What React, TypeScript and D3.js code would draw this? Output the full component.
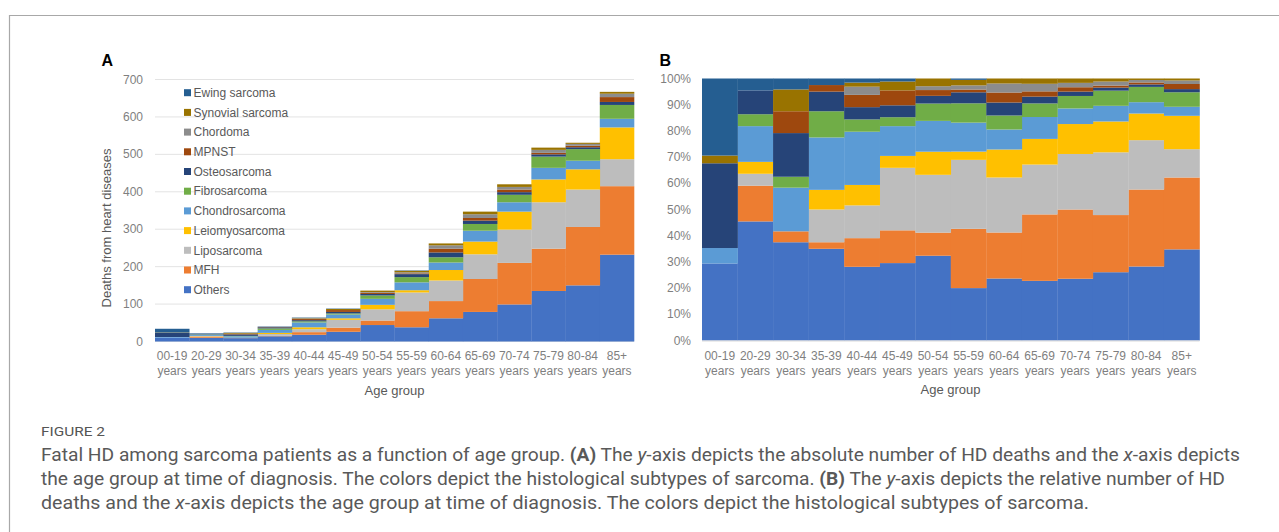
import * as d3 from "d3";

// age groups (x categories)
const ageGroups = [
  "00-19 years", "20-29 years", "30-34 years", "35-39 years", "40-44 years",
  "45-49 years", "50-54 years", "55-59 years", "60-64 years", "65-69 years",
  "70-74 years", "75-79 years", "80-84 years", "85+ years",
];

// deaths from heart diseases per histological subtype
const others = [10, 10, 9, 14, 18, 26, 44, 38, 62, 79, 99, 135, 150, 232];
const mfh = [0, 3, 1, 1, 7, 11, 12, 43, 46, 88, 111, 113, 156, 183];
const liposarcoma = [0, 1, 0, 5, 8, 21, 30, 50, 55, 66, 89, 124, 100, 72];
const leiomyosarcoma = [0, 1, 0, 3, 5, 4, 12, 6, 28, 34, 48, 61, 54, 85];
const chondrosarcoma = [2, 3, 4, 8, 13, 10, 16, 21, 20, 29, 25, 31, 23, 23];
const fibrosarcoma = [0, 1, 1, 4, 3, 3, 9, 14, 14, 18, 20, 30, 31, 37];
const osteosarcoma = [11, 2, 4, 3, 3, 4, 4, 8, 13, 9, 7, 6, 5, 8];
const mpnst = [0, 0, 2, 1, 3, 5, 3, 2, 10, 7, 7, 4, 4, 13];
const chordoma = [0, 0, 0, 0, 2, 0, 2, 3, 9, 10, 7, 8, 5, 9];
const synovial = [1, 0, 2, 0, 1, 3, 4, 4, 5, 7, 7, 6, 3, 5];
const ewing = [10, 1, 1, 1, 1, 1, 0, 1, 0, 0, 0, 0, 0, 0];

// bottom to top
const seriesNames = [
  "Others", "MFH", "Liposarcoma", "Leiomyosarcoma", "Chondrosarcoma", "Fibrosarcoma",
  "Osteosarcoma", "MPNST", "Chordoma", "Synovial sarcoma", "Ewing sarcoma",
];
const seriesValues = [
  others, mfh, liposarcoma, leiomyosarcoma, chondrosarcoma, fibrosarcoma,
  osteosarcoma, mpnst, chordoma, synovial, ewing,
];
const seriesColors = [
  "#4472C4", "#ED7D31", "#BDBDBD", "#FFC000", "#5B9BD5", "#70AD47",
  "#264478", "#9E480E", "#8C8C8C", "#997300", "#255E91",
];

const absTicks = [0, 100, 200, 300, 400, 500, 600, 700];
const pctTicks = [0, 0.1, 0.2, 0.3, 0.4, 0.5, 0.6, 0.7, 0.8, 0.9, 1];

const font = "'Liberation Sans', Arial, sans-serif";
const captionFont = "Roboto, 'Noto Sans', sans-serif";

const rows = ageGroups.map((g, i) => {
  const r: any = { group: g };
  seriesNames.forEach((s, k) => (r[s] = seriesValues[k][i]));
  return r;
});

function XLabels({ x, y0 }: { x: d3.ScaleBand<string>; y0: number }) {
  return (
    <g fill="#7F7F7F" fontSize={12} fontFamily={font} textAnchor="middle">
      {ageGroups.map((g) => {
        const [a, b] = g.split(" ");
        const cx = x(g)! + x.bandwidth() / 2;
        return (
          <text key={g} x={cx} y={y0}>
            <tspan x={cx}>{a}</tspan>
            <tspan x={cx} dy={15}>{b}</tspan>
          </text>
        );
      })}
    </g>
  );
}

export default function App() {
  const W = 1279, H = 532;

  // panel A
  const xA = d3.scaleBand().domain(ageGroups).range([155, 634]).padding(0);
  const yA = d3.scaleLinear().domain([0, 700]).range([341.5, 79.5]);
  const stackA = d3.stack<any>().keys(seriesNames)(rows);

  // panel B
  const xB = d3.scaleBand().domain(ageGroups).range([702, 1199.5]).padding(0);
  const yB = d3.scaleLinear().domain([0, 1]).range([340.5, 78.5]);
  const stackB = d3.stack<any>().keys(seriesNames).offset(d3.stackOffsetExpand)(rows);
  const pct = d3.format(".0%");

  const legendNames = seriesNames.slice().reverse();
  const legendColors = seriesColors.slice().reverse();

  return (
    <svg width={W} height={H} style={{ position: "absolute", left: 0, top: 0, display: "block" }}>
      <rect width={W} height={H} fill="#fff" />
      {/* frame */}
      <path d={`M9.5,${H} V15.5 H${W}`} fill="none" stroke="#A8A8A8" strokeWidth={1.2} />

      {/* ---------- A ---------- */}
      <text x={101.5} y={65.5} fontFamily={font} fontWeight="bold" fontSize={16} fill="#000">A</text>
      <g>
        {absTicks.map((t) => (
          <line key={t} x1={155} x2={634} y1={yA(t)} y2={yA(t)} stroke="#E3E3E3" strokeWidth={1} />
        ))}
      </g>
      <g fill="#7F7F7F" fontSize={12} fontFamily={font} textAnchor="end">
        {absTicks.map((t) => (
          <text key={t} x={143} y={yA(t) + 4}>{t}</text>
        ))}
      </g>
      {stackA.map((layer, k) => (
        <g key={layer.key} fill={seriesColors[k]}>
          {layer.map((d, i) => (
            <rect key={i} x={xA(ageGroups[i])} width={xA.bandwidth() + 0.3}
              y={yA(d[1])} height={Math.max(0, yA(d[0]) - yA(d[1]))} />
          ))}
        </g>
      ))}
      <g fontFamily={font} fontSize={12} fill="#595959">
        {legendNames.map((n, i) => (
          <g key={n} transform={`translate(184,${92.7 + i * 19.7})`}>
            <rect x={0} y={-3.5} width={7} height={7} fill={legendColors[i]} />
            <text x={9.5} y={4.2}>{n}</text>
          </g>
        ))}
      </g>
      <XLabels x={xA} y0={360} />
      <text x={394.5} y={394.5} textAnchor="middle" fontFamily={font} fontSize={13} fill="#595959">Age group</text>
      <text transform="translate(110.5,228) rotate(-90)" textAnchor="middle" fontFamily={font} fontSize={13} fill="#595959">
        Deaths from heart diseases
      </text>

      {/* ---------- B ---------- */}
      <text x={659.5} y={65.5} fontFamily={font} fontWeight="bold" fontSize={16} fill="#000">B</text>
      <g fill="#7F7F7F" fontSize={12} fontFamily={font} textAnchor="end">
        {pctTicks.map((t) => (
          <text key={t} x={691} y={yB(t) + 4}>{pct(t)}</text>
        ))}
      </g>
      {stackB.map((layer, k) => (
        <g key={layer.key} fill={seriesColors[k]}>
          {layer.map((d, i) => (
            <rect key={i} x={xB(ageGroups[i])} width={xB.bandwidth() + 0.3}
              y={yB(d[1])} height={Math.max(0, yB(d[0]) - yB(d[1]))} />
          ))}
        </g>
      ))}
      <line x1={702} x2={1199.5} y1={yB(0) + 0.5} y2={yB(0) + 0.5} stroke="#D9D9D9" />
      <XLabels x={xB} y0={360} />
      <text x={950.5} y={394} textAnchor="middle" fontFamily={font} fontSize={13} fill="#595959">Age group</text>

      {/* ---------- caption ---------- */}
      <text x={41} y={435.5} fontFamily={captionFont} fontSize={12} fill="#555" textLength={64} lengthAdjust="spacingAndGlyphs">
        FIGURE 2
      </text>
      <g fontFamily={captionFont} fontSize={17.5} fill="#595959">
        <text x={41} y={461} textLength={1199} lengthAdjust="spacingAndGlyphs">
          Fatal HD among sarcoma patients as a function of age group. <tspan fontWeight="bold">(A)</tspan> The{" "}
          <tspan fontStyle="italic">y</tspan>-axis depicts the absolute number of HD deaths and the{" "}
          <tspan fontStyle="italic">x</tspan>-axis depicts
        </text>
        <text x={41} y={485} textLength={1184} lengthAdjust="spacingAndGlyphs">
          the age group at time of diagnosis. The colors depict the histological subtypes of sarcoma.{" "}
          <tspan fontWeight="bold">(B)</tspan> The <tspan fontStyle="italic">y</tspan>-axis depicts the relative number of HD
        </text>
        <text x={41} y={509} textLength={1048} lengthAdjust="spacingAndGlyphs">
          deaths and the <tspan fontStyle="italic">x</tspan>-axis depicts the age group at time of diagnosis. The colors depict
          the histological subtypes of sarcoma.
        </text>
      </g>
    </svg>
  );
}
